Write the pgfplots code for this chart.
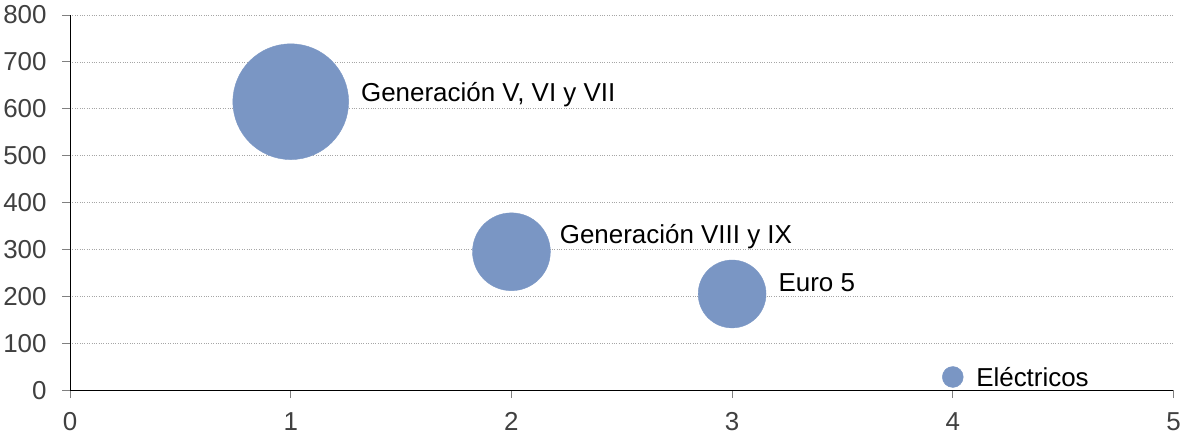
\documentclass[border=0pt]{standalone}
\usepackage{pgfplots}
\pgfplotsset{compat=1.18}
\usepackage{fontspec}
\setmainfont{Liberation Sans}
\definecolor{bub}{RGB}{122,150,196}
\definecolor{ticklab}{RGB}{64,64,64}
\begin{document}
\begin{tikzpicture}
\begin{axis}[
  scale only axis,
  width=1106bp, height=376bp,
  xmin=0, xmax=5, ymin=0, ymax=800,
  xtick={0,1,2,3,4,5}, ytick={0,100,...,800},
  axis lines*=left,
  axis line style={black, line width=0.8bp},
  tick align=outside,
  major tick length=8bp,
  tick style={color=gray, line width=0.8bp},
  ymajorgrids,
  grid style={gray!70, dotted, line width=0.6bp},
  ticklabel style={font=\fontsize{26bp}{30bp}\selectfont, text=ticklab},
  yticklabel style={xshift=-12bp},
  xticklabel style={yshift=-11bp},
  /pgf/number format/assume math mode=true,
  clip=false,
  point meta=explicit symbolic,
  nodes near coords,
  every node near coord/.append style={font=\fontsize{26bp}{30bp}\selectfont, text=black, anchor=west},
]
\addplot[only marks, mark=*, mark size=58bp, color=bub,
  every node near coord/.append style={xshift=67bp, yshift=7bp}]
  coordinates {(1,615) [Generación V, VI y VII]};
\addplot[only marks, mark=*, mark size=39bp, color=bub,
  every node near coord/.append style={xshift=45bp, yshift=15bp}]
  coordinates {(2,295) [Generación VIII y IX]};
\addplot[only marks, mark=*, mark size=34bp, color=bub,
  every node near coord/.append style={xshift=43bp, yshift=11bp}]
  coordinates {(3,205) [Euro 5]};
\addplot[only marks, mark=*, mark size=10.5bp, color=bub,
  every node near coord/.append style={xshift=20bp, yshift=0bp}]
  coordinates {(4,28) [Eléctricos]};
\end{axis}
\path (current axis.north west) ++(0,15bp);
\end{tikzpicture}
\end{document}
